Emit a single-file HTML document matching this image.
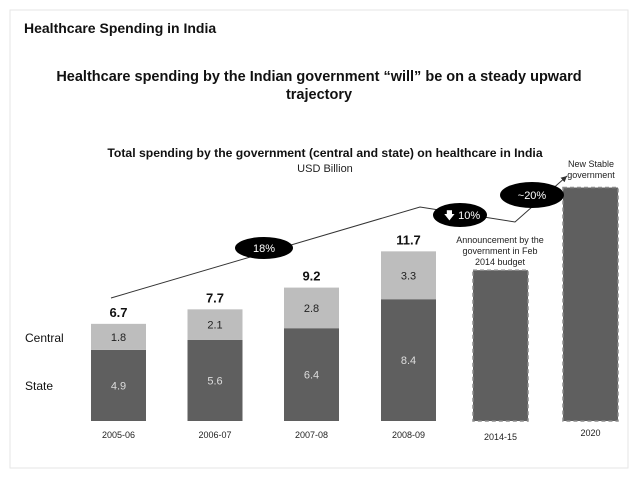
<!DOCTYPE html>
<html><head><meta charset="utf-8"><style>
body{margin:0;background:#fff;}
svg{display:block;font-family:"Liberation Sans",Arial,sans-serif;}
</style></head><body>
<svg width="638" height="479">
<defs><marker id="ah" markerWidth="8" markerHeight="8" refX="6" refY="3" orient="auto"><path d="M0,0 L6,3 L0,6 Z" fill="#333"/></marker></defs>
<rect x="10" y="10" width="618" height="458" fill="#fff" stroke="#e6e6e6"/>
<text x="24" y="33" font-size="14" font-weight="bold" fill="#111">Healthcare Spending in India</text>
<text x="319" y="81" font-size="14.5" font-weight="bold" text-anchor="middle" fill="#111">Healthcare spending by the Indian government “will” be on a steady upward</text>
<text x="319" y="99" font-size="14.5" font-weight="bold" text-anchor="middle" fill="#111">trajectory</text>
<text x="325" y="157" font-size="12.2" font-weight="bold" text-anchor="middle" fill="#111">Total spending by the government (central and state) on healthcare in India</text>
<text x="325" y="172" font-size="11" text-anchor="middle" fill="#222">USD Billion</text>
<text x="25" y="342" font-size="12" fill="#111">Central</text>
<text x="25" y="390" font-size="12" fill="#111">State</text>
<g id="bars"></g>
<polyline points="111,298 420,207 515,222 567,176" fill="none" stroke="#333" stroke-width="1" marker-end="url(#ah)"/>
<ellipse cx="264" cy="248" rx="29" ry="11" fill="#000"/>
<text x="264" y="252" font-size="11" fill="#fff" text-anchor="middle">18%</text>
<ellipse cx="460" cy="215" rx="27" ry="12" fill="#000"/>
<text x="462" y="219" font-size="11" fill="#fff" text-anchor="middle">🡇 10%</text>
<ellipse cx="532" cy="195" rx="32" ry="13" fill="#000"/>
<text x="532" y="199" font-size="11" fill="#fff" text-anchor="middle">~20%</text>
<text x="500" y="243" font-size="9" fill="#222" text-anchor="middle">Announcement by the</text>
<text x="500" y="254" font-size="9" fill="#222" text-anchor="middle">government in Feb</text>
<text x="500" y="265" font-size="9" fill="#222" text-anchor="middle">2014 budget</text>
<text x="591" y="167" font-size="9" fill="#222" text-anchor="middle">New Stable</text>
<text x="591" y="178" font-size="9" fill="#222" text-anchor="middle">government</text>
</svg>
<script>
const categories=["2005-06","2006-07","2007-08","2008-09"];
const stateVals=[4.9,5.6,6.4,8.4];
const centralVals=[1.8,2.1,2.8,3.3];
const totals=["6.7","7.7","9.2","11.7"];
const projCategories=["2014-15","2020"];
const projVals=[10.4,16.1];
const base=421, k=14.5, bw=55;
const xs=[91,187.5,284,381,473,563];
const y=v=>base-v*k;
const g=document.getElementById('bars');
const NS='http://www.w3.org/2000/svg';
function mk(t,a,txt){const e=document.createElementNS(NS,t);for(const n in a)e.setAttribute(n,a[n]);if(txt!=null)e.textContent=txt;g.appendChild(e);return e;}
categories.forEach((c,i)=>{
  const x=xs[i],s=stateVals[i],ce=centralVals[i];
  let e=mk('rect',{x:x,y:y(s),width:bw,height:s*k,fill:'#5f5f5f'});
  
  
  e=mk('rect',{x:x,y:y(s+ce),width:bw,height:ce*k,fill:'#bdbdbd'});
  
  
  e=mk('text',{x:x+bw/2,y:y(s/2)+4,'font-size':11,fill:'#ddd','text-anchor':'middle'},String(s));
  
  
  e=mk('text',{x:x+bw/2,y:y(s+ce/2)+4,'font-size':11,fill:'#222','text-anchor':'middle'},String(ce));
  
  
  e=mk('text',{x:x+bw/2,y:y(s+ce)-7,'font-size':13,'font-weight':'bold',fill:'#111','text-anchor':'middle'},totals[i]);
  
  
  e=mk('text',{x:x+bw/2,y:base+17,'font-size':9,fill:'#222','text-anchor':'middle'},c);
  
  
});
projCategories.forEach((c,j)=>{
  const x=xs[4+j],v=projVals[j];
  let e=mk('rect',{x:x,y:y(v),width:bw,height:v*k,fill:'#5f5f5f',stroke:'#8a8a8a','stroke-dasharray':'4,3','stroke-width':1.5});
  
  
  e=mk('text',{x:x+bw/2,y:base+(j==0?19:15),'font-size':9,fill:'#222','text-anchor':'middle'},c);
  
  
});
</script>
</body></html>
